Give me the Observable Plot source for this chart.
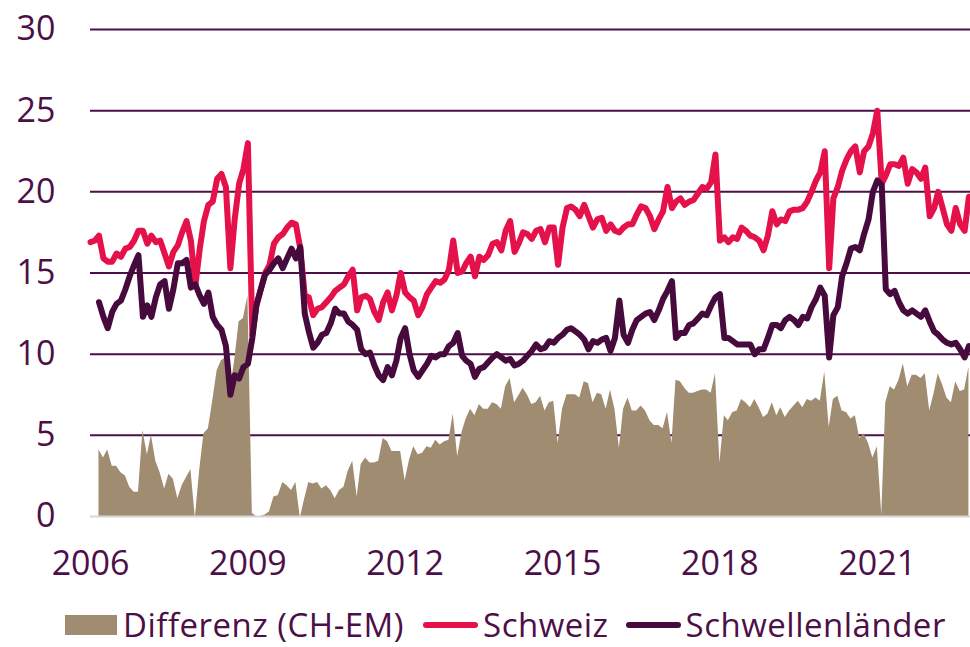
<!DOCTYPE html>
<html><head><meta charset="utf-8">
<script src="https://cdn.jsdelivr.net/npm/d3@7"></script>
<script src="https://cdn.jsdelivr.net/npm/@observablehq/plot@0.6"></script>
<style>
body{margin:0;background:#fff;font-family:"Open Sans",sans-serif;color:#4d0f47;}
#wrap{position:relative;width:970px;height:647px;}
#legend{position:absolute;left:65px;top:606px;height:37px;display:flex;align-items:center;font-size:33px;line-height:37px;letter-spacing:0.5px;white-space:nowrap;}
.sw{display:inline-block;}
</style>
</head><body>
<div id="wrap"><div id="chart"></div>
<div id="legend">
  <span class="sw" style="width:52px;height:20px;background:#a08c70;margin-right:6px;"></span><span>Differenz (CH-EM)</span>
  <span class="sw" style="width:55px;height:6px;border-radius:3px;background:#e4114a;margin-left:19px;margin-right:5px;"></span><span>Schweiz</span>
  <span class="sw" style="width:55px;height:6px;border-radius:3px;background:#470a3d;margin-left:17px;margin-right:5px;"></span><span>Schwellenländer</span>
</div></div>
<script>
// Monthly values starting January 2006
const schweiz = [16.9,17.0,17.3,15.9,15.7,15.7,16.2,16.0,16.5,16.6,
17.0,17.6,17.6,16.8,17.3,16.9,17.0,16.2,15.4,16.3,
16.7,17.5,18.2,17.0,14.2,16.5,18.2,19.2,19.4,20.8,
21.1,20.3,15.3,18.3,20.5,21.4,23.0,11.2,13.0,14.0,
15.0,15.5,16.8,17.2,17.4,17.8,18.1,18.0,16.5,13.6,
13.5,12.4,12.8,12.9,13.2,13.5,13.9,14.1,14.3,14.8,
15.2,12.7,13.5,13.6,13.4,12.6,12.1,13.2,13.8,12.7,
13.6,15.0,13.8,13.5,13.3,12.4,12.9,13.7,14.1,14.5,
14.4,14.6,15.2,17.0,15.0,15.1,15.6,16.0,14.8,16.0,
15.8,16.1,16.8,16.9,16.4,17.6,18.2,16.3,16.8,17.5,
17.4,17.1,17.6,17.7,16.9,17.8,17.8,15.5,17.8,19.0,
19.1,18.9,18.5,19.2,18.5,17.8,18.3,18.4,17.6,18.0,
17.6,17.5,17.8,18.0,18.0,18.6,19.1,19.0,18.5,17.7,
18.3,18.8,20.3,19.0,19.4,19.6,19.2,19.4,19.5,19.9,
20.3,20.2,20.6,22.3,17.0,17.2,16.9,17.2,17.1,17.8,
17.6,17.3,17.2,17.0,16.4,17.3,18.8,18.0,18.3,18.2,
18.8,18.9,18.9,19.0,19.4,20.0,20.7,21.2,22.5,15.3,
19.6,20.3,21.3,22.0,22.5,22.8,21.2,22.5,22.8,23.6,
25.0,20.5,21.0,21.7,21.7,21.6,22.1,20.5,21.4,21.2,
20.8,21.5,18.5,19.0,20.0,19.0,18.0,17.6,19.0,18.0,
17.6,19.7];

const schwellenlaender = [null,null,13.2,12.3,11.6,12.6,13.1,13.3,14.0,14.8,
15.5,16.1,12.3,13.0,12.3,13.5,14.3,14.5,12.8,14.0,
15.6,15.6,15.8,14.1,14.3,13.6,13.1,13.8,12.3,11.8,
11.5,10.5,7.5,8.7,8.5,9.2,9.4,11.0,13.0,14.0,
14.9,15.2,15.6,15.9,15.3,15.9,16.5,15.9,16.6,12.5,
11.4,10.4,10.7,11.2,11.3,11.9,12.8,12.5,12.5,12.0,
11.8,11.5,10.3,10.0,10.1,9.3,8.7,8.4,9.2,8.7,
9.6,11.0,11.6,10.0,9.0,8.6,9.0,9.4,9.9,9.8,
10.0,10.0,10.5,10.7,11.3,9.9,9.6,9.4,8.6,9.1,
9.2,9.5,9.8,10.0,9.8,9.6,9.7,9.3,9.4,9.6,
9.9,10.2,10.6,10.3,10.4,10.8,10.7,11.0,11.2,11.5,
11.6,11.4,11.2,10.9,10.3,10.8,10.7,10.9,11.0,10.2,
11.0,13.3,11.2,10.7,11.5,12.1,12.3,12.5,12.6,12.1,
12.7,13.4,13.9,14.5,11.0,11.3,11.3,11.8,11.9,12.2,
12.5,12.4,13.0,13.5,13.7,11.0,11.0,10.8,10.6,10.6,
10.6,10.6,10.0,10.3,10.3,11.0,11.8,11.8,11.6,12.1,
12.3,12.1,11.8,12.3,12.2,12.9,13.4,14.1,13.6,9.8,
12.4,12.9,14.8,15.6,16.5,16.6,16.4,17.4,18.3,20.0,
20.7,20.4,14.0,13.7,13.9,13.2,12.7,12.5,12.7,12.5,
12.3,12.7,12.0,11.4,11.2,10.9,10.7,10.6,10.7,10.3,
9.8,10.5];

const yearTicks = [2006, 2009, 2012, 2015, 2018, 2021];
const yTicks = [0, 5, 10, 15, 20, 25, 30];

const textColor = "#4d0f47";
const rows = schweiz.map((v, i) => ({
  date: new Date(Date.UTC(2006, i, 1)),
  ch: v,
  em: schwellenlaender[i]
}));
const diffRows = rows.filter(d => d.ch != null && d.em != null).map(d => ({date: d.date, diff: d.ch - d.em}));

const chart = Plot.plot({
  width: 970, height: 600,
  marginTop: 29, marginBottom: 84, marginLeft: 90, marginRight: 0,
  style: {fontFamily: "Open Sans", fontSize: "34px", color: textColor, background: "white"},
  x: {
    type: "utc",
    domain: [new Date(Date.UTC(2006, 0, 1)), new Date(Date.UTC(2022, 9, 12))],
    ticks: yearTicks.map(y => new Date(Date.UTC(y, 0, 1))),
    tickFormat: d3.utcFormat("%Y"),
    tickSize: 0, tickPadding: 34, label: null
  },
  y: {domain: [0, 30], ticks: yTicks, tickSize: 0, tickPadding: 35, label: null},
  marks: [
    Plot.ruleY(yTicks.filter(v => v > 0), {stroke: textColor, strokeWidth: 2}),
    Plot.areaY(diffRows, {x: "date", y: "diff", fill: "#a08c70"}),
    Plot.ruleY([0], {stroke: "#d6d6d6", strokeWidth: 2}),
    Plot.lineY(rows, {x: "date", y: "ch", stroke: "#e4114a", strokeWidth: 6, strokeLinejoin: "round", strokeLinecap: "round"}),
    Plot.lineY(rows.filter(d => d.em != null), {x: "date", y: "em", stroke: "#470a3d", strokeWidth: 6, strokeLinejoin: "round", strokeLinecap: "round"})
  ]
});
document.getElementById("chart").appendChild(chart);
</script>
</body></html>
